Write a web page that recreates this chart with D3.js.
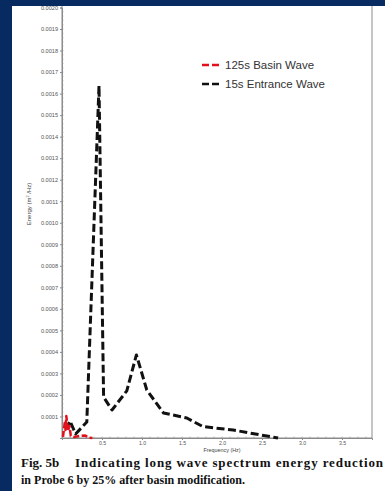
<!DOCTYPE html>
<html>
<head>
<meta charset="utf-8">
<script src="https://cdn.jsdelivr.net/npm/d3@7"></script>
<style>
  html, body { margin: 0; padding: 0; background: #072a60; }
  #chart { width: 385px; height: 491px; }
</style>
</head>
<body>
<div id="chart"></div>
<script>
// 15s entrance wave (black dashed)
const entranceFreq = [0.05, 0.1, 0.17, 0.31, 0.4625, 0.52, 0.625, 0.81, 0.93, 1.06, 1.27, 1.56, 1.76, 2.14, 2.56, 2.7];
const entranceEnergy = [0.00004, 0.000079, 0.000019, 0.000074, 0.001637, 0.00019, 0.00013, 0.000219, 0.000386, 0.000223, 0.000116, 0.000093, 0.000053, 0.000037, 0.000009, 0.0];

// 125s basin wave (red dashed)
const basinFreq = [0.0125, 0.034, 0.044, 0.054, 0.075, 0.094, 0.11, 0.15, 0.225, 0.29, 0.33, 0.38];
const basinEnergy = [0.000005, 0.00007, 0.000037, 0.000102, 0.000033, 0.000056, 0.00001, 0.000005, 0.00001, 0.000012, 0.000002, 0.0];

const xTicks = [0.5, 1.0, 1.5, 2.0, 2.5, 3.0, 3.5];
const yTicks = [0.0001, 0.0002, 0.0003, 0.0004, 0.0005, 0.0006, 0.0007, 0.0008, 0.0009, 0.0010,
                0.0011, 0.0012, 0.0013, 0.0014, 0.0015, 0.0016, 0.0017, 0.0018, 0.0019, 0.0020];
const seriesNames = ['125s Basin Wave', '15s Entrance Wave'];
const seriesColors = ['#e3101c', '#111111'];

const W = 385, H = 491;
const svg = d3.select('#chart').append('svg')
    .attr('width', W)
    .attr('height', H);

// white page area
svg.append('rect')
    .attr('x', 12).attr('y', 6)
    .attr('width', W - 12).attr('height', H - 6)
    .attr('fill', '#ffffff');

const x = d3.scaleLinear().domain([0, 3.875]).range([62, 372]);
const y = d3.scaleLinear().domain([0, 0.002]).range([438, 7.5]);

const plot = svg.append('g');

// frame
plot.append('rect')
    .attr('x', x(0)).attr('y', y(0.002) - 2)
    .attr('width', x(3.875) - x(0))
    .attr('height', y(0) - y(0.002) + 2)
    .attr('fill', 'none')
    .attr('stroke', '#8a8a8a')
    .attr('stroke-width', 1);

// y axis
const yAxis = plot.append('g')
    .attr('transform', 'translate(' + x(0) + ',0)')
    .call(d3.axisLeft(y).tickValues(yTicks).tickSize(2).tickFormat(d3.format('.4f')));
yAxis.select('.domain').attr('stroke', '#8a8a8a');
yAxis.selectAll('.tick line').attr('stroke', '#8a8a8a');
yAxis.selectAll('.tick text')
    .attr('font-family', 'Liberation Sans, Arial, sans-serif')
    .attr('font-size', 5.6)
    .attr('fill', '#555')
    .attr('x', -4);

// y minor ticks
plot.append('g')
    .selectAll('line')
    .data(d3.range(0, 100).map(i => i * 0.00002))
    .enter()
    .append('line')
    .attr('x1', x(0))
    .attr('x2', x(0) + 1.5)
    .attr('y1', d => y(d))
    .attr('y2', d => y(d))
    .attr('stroke', '#999')
    .attr('stroke-width', 0.6);

// x axis
const xAxis = plot.append('g')
    .attr('transform', 'translate(0,' + y(0) + ')')
    .call(d3.axisBottom(x).tickValues(xTicks).tickSize(2).tickFormat(d3.format('.1f')));
xAxis.select('.domain').attr('stroke', '#8a8a8a');
xAxis.selectAll('.tick line').attr('stroke', '#8a8a8a');
xAxis.selectAll('.tick text')
    .attr('font-family', 'Liberation Sans, Arial, sans-serif')
    .attr('font-size', 5.2)
    .attr('fill', '#555')
    .attr('y', 3);

// x minor ticks
plot.append('g')
    .selectAll('line')
    .data(d3.range(1, 39).map(i => i * 0.1))
    .enter()
    .append('line')
    .attr('x1', d => x(d))
    .attr('x2', d => x(d))
    .attr('y1', y(0))
    .attr('y2', y(0) - 1.5)
    .attr('stroke', '#999')
    .attr('stroke-width', 0.6);

// axis titles
svg.append('text')
    .attr('x', 222).attr('y', 452)
    .attr('text-anchor', 'middle')
    .attr('font-family', 'Liberation Sans, Arial, sans-serif')
    .attr('font-size', 5.4)
    .attr('fill', '#444')
    .text('Frequency (Hz)');

const yt = svg.append('text')
    .attr('transform', 'translate(31,204) rotate(-90)')
    .attr('text-anchor', 'middle')
    .attr('font-family', 'Liberation Sans, Arial, sans-serif')
    .attr('font-size', 6)
    .attr('fill', '#444');
yt.append('tspan').text('Energy (m');
yt.append('tspan').attr('font-size', 3.8).attr('dy', -2).text('2');
yt.append('tspan').attr('dy', 2).text(' /Hz)');

// lines
const line = d3.line()
    .x(d => x(d[0]))
    .y(d => y(d[1]));

plot.append('path')
    .datum(d3.zip(entranceFreq, entranceEnergy))
    .attr('d', line)
    .attr('fill', 'none')
    .attr('stroke', seriesColors[1])
    .attr('stroke-width', 3)
    .attr('stroke-dasharray', '8,3.5')
    .attr('stroke-linejoin', 'round');

plot.append('path')
    .datum(d3.zip(basinFreq, basinEnergy))
    .attr('d', line)
    .attr('fill', 'none')
    .attr('stroke', seriesColors[0])
    .attr('stroke-width', 2.5)
    .attr('stroke-dasharray', '6,2.5')
    .attr('stroke-linejoin', 'round');

// legend
const legend = svg.append('g');
seriesNames.forEach((name, i) => {
    const ly = 65 + i * 19;
    legend.append('line')
        .attr('x1', 202).attr('x2', 219)
        .attr('y1', ly).attr('y2', ly)
        .attr('stroke', seriesColors[i])
        .attr('stroke-width', 2.5)
        .attr('stroke-dasharray', '7,3');
    legend.append('text')
        .attr('x', 225).attr('y', ly + 4)
        .attr('font-family', 'Liberation Sans, Arial, sans-serif')
        .attr('font-size', 11.5)
        .attr('fill', '#333')
        .text(name);
});

// caption
const cap = svg.append('g')
    .attr('font-family', 'Liberation Serif, Times New Roman, serif')
    .attr('font-weight', 'bold')
    .attr('font-size', 13)
    .attr('fill', '#111');
cap.append('text').attr('x', 21).attr('y', 467).text('Fig. 5b');
cap.append('text').attr('x', 75).attr('y', 467)
    .attr('textLength', 308).attr('lengthAdjust', 'spacing')
    .text('Indicating long wave spectrum energy reduction');
cap.append('text').attr('x', 21).attr('y', 484)
    .attr('textLength', 224).attr('lengthAdjust', 'spacingAndGlyphs')
    .text('in Probe 6 by 25% after basin modification.');

// blue top band over the panel
svg.append('rect')
    .attr('x', 0).attr('y', 0)
    .attr('width', W).attr('height', 6)
    .attr('fill', '#072a60');
</script>
</body>
</html>
